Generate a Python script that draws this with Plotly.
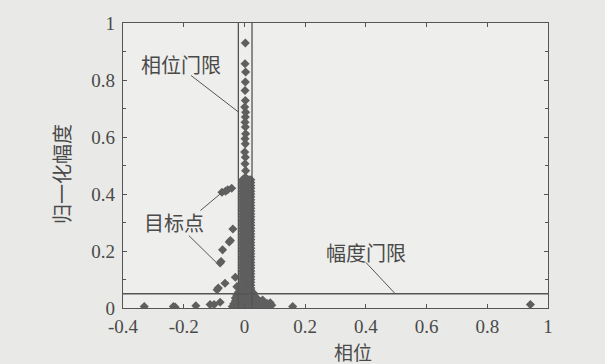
import plotly.graph_objects as go

# ---- data ----
peak_x = [0.003, 0.002, 0.004, 0.003, 0.002, 0.003, 0.001, 0.004, 0.003, 0.002,
          0.003, 0.004, 0.002, 0.003, 0.001, 0.003, 0.002, 0.004, 0.003]
peak_y = [0.93, 0.857, 0.828, 0.793, 0.763, 0.728, 0.705, 0.687, 0.67, 0.652,
          0.635, 0.611, 0.594, 0.576, 0.547, 0.529, 0.506, 0.482, 0.459]

band_y = [0.45, 0.44, 0.43, 0.42, 0.41, 0.40, 0.39, 0.38, 0.37, 0.36, 0.35, 0.34,
          0.33, 0.32, 0.31, 0.30, 0.29, 0.28, 0.27, 0.26, 0.25, 0.24, 0.23, 0.22,
          0.21, 0.20, 0.19, 0.18, 0.17, 0.16, 0.15, 0.14, 0.13, 0.12, 0.11, 0.10,
          0.09, 0.08, 0.07, 0.06]
band_x = [-0.006, 0.001, 0.008, 0.015, 0.021]

target_x = [-0.074, -0.062, -0.055, -0.042, -0.038, -0.046, -0.05, -0.072,
            -0.077, -0.08, -0.03, -0.064, -0.086, -0.09]
target_y = [0.406, 0.41, 0.415, 0.42, 0.277, 0.237, 0.232, 0.204,
            0.163, 0.158, 0.108, 0.087, 0.07, 0.064]

base_x = [-0.33, -0.234, -0.228, -0.16, -0.113, -0.1, -0.08, 0.159, 0.942]
base_y = [0.005, 0.005, 0.003, 0.008, 0.012, 0.012, 0.02, 0.005, 0.012]

blob_x = [-0.04, -0.03, -0.02, -0.01, 0.0, 0.01, 0.02, 0.03, 0.04, 0.05, 0.06, 0.07, 0.08, 0.09,
          -0.035, -0.025, -0.015, -0.005, 0.005, 0.015, 0.025, 0.035, 0.045, 0.055, 0.065, 0.075, 0.085,
          -0.03, -0.02, -0.01, 0.0, 0.01, 0.02, 0.03, 0.04, 0.05, 0.06,
          -0.03, -0.02, -0.01, 0.0, 0.01, 0.02, 0.03, 0.04,
          -0.025, -0.015, -0.005, 0.005, 0.015, 0.025, 0.035,
          -0.02, -0.01, 0.0, 0.01, 0.02, 0.03,
          -0.015, 0.0, 0.02, -0.025, -0.01]
blob_y = [0.005, 0.004, 0.006, 0.005, 0.004, 0.006, 0.005, 0.004, 0.006, 0.005, 0.01, 0.008, 0.012, 0.01,
          0.015, 0.016, 0.014, 0.015, 0.016, 0.014, 0.015, 0.016, 0.014, 0.018, 0.02, 0.016, 0.018,
          0.025, 0.026, 0.024, 0.025, 0.026, 0.024, 0.025, 0.026, 0.024, 0.028,
          0.035, 0.036, 0.034, 0.035, 0.036, 0.034, 0.035, 0.034,
          0.045, 0.046, 0.044, 0.045, 0.046, 0.044, 0.04,
          0.055, 0.056, 0.054, 0.055, 0.05, 0.052,
          0.065, 0.07, 0.065, 0.075, 0.085]

phase_gate = [-0.02, 0.025]
amp_gate = 0.05

x_ticks = [-0.4, -0.2, 0, 0.2, 0.4, 0.6, 0.8, 1]
x_labels = ["-0.4", "-0.2", "0", "0.2", "0.4", "0.6", "0.8", "1"]
y_ticks = [0, 0.2, 0.4, 0.6, 0.8, 1]
y_labels = ["0", "0.2", "0.4", "0.6", "0.8", "1"]

# ---- figure ----
pts_x = peak_x + [bx for _ in band_y for bx in band_x] + target_x + base_x + blob_x
pts_y = peak_y + [by for by in band_y for _ in band_x] + target_y + base_y + blob_y

line_col = "#555555"
mark_col = "#5f5f5f"
txt_col = "#4a4a4a"
fig = go.Figure()
fig.add_trace(go.Scatter(x=pts_x, y=pts_y, mode="markers",
                         marker=dict(symbol="diamond", size=7, color=mark_col,
                                     line=dict(width=0)),
                         showlegend=False, hoverinfo="skip"))
for gx in phase_gate:
    fig.add_shape(type="line", x0=gx, x1=gx, y0=0, y1=1, xref="x", yref="y",
                  line=dict(color=line_col, width=1.3))
fig.add_shape(type="line", x0=-0.4, x1=1, y0=amp_gate, y1=amp_gate, xref="x", yref="y",
              line=dict(color=line_col, width=1.3))

# leader lines
leaders = [(-0.176, 0.816, -0.019, 0.687),
           (-0.145, 0.342, -0.08, 0.40),
           (-0.183, 0.254, -0.093, 0.16),
           (0.40, 0.16, 0.495, 0.052)]
for x0, y0, x1, y1 in leaders:
    fig.add_shape(type="line", x0=x0, y0=y0, x1=x1, y1=y1, xref="x", yref="y",
                  line=dict(color=line_col, width=1))

cjk = "Noto Sans CJK SC"
for t, x, y in [("相位门限", -0.21, 0.855), ("目标点", -0.232, 0.30), ("幅度门限", 0.40, 0.194)]:
    fig.add_annotation(text=t, x=x, y=y, xref="x", yref="y", showarrow=False,
                       font=dict(family=cjk, size=20, color=txt_col))

# axis titles
fig.add_annotation(text="相位", x=0.359, y=-0.152, xref="x", yref="paper",
                   showarrow=False, yanchor="middle",
                   font=dict(family=cjk, size=19, color=txt_col))
fig.add_annotation(text="归一化幅度", x=-0.146, y=0.47, xref="paper", yref="paper",
                   showarrow=False, textangle=-90, xanchor="center", yanchor="middle",
                   font=dict(family=cjk, size=20, color=txt_col))

axis_common = dict(showgrid=False, zeroline=False, showline=True, linecolor=line_col,
                   linewidth=1.3, mirror="ticks", ticks="inside", ticklen=4,
                   tickcolor=line_col,
                   tickfont=dict(family="Liberation Serif", size=19, color=txt_col))
fig.update_xaxes(range=[-0.4, 1], tickvals=x_ticks, ticktext=x_labels,
                 ticklabelstandoff=1, **axis_common)
fig.update_yaxes(range=[0, 1], tickvals=y_ticks, ticktext=y_labels,
                 minor=dict(ticks="inside", ticklen=3, tickcolor=line_col, dtick=0.1),
                 ticklabelstandoff=3, **axis_common)
fig.update_layout(width=605, height=364,
                  margin=dict(l=123, r=57, t=23, b=56),
                  paper_bgcolor="#e9e9e7", plot_bgcolor="#eeeeec")
fig.write_html("out.html", config={"displayModeBar": False},
               post_script="document.body.style.margin='0';document.body.style.overflow='hidden';")
